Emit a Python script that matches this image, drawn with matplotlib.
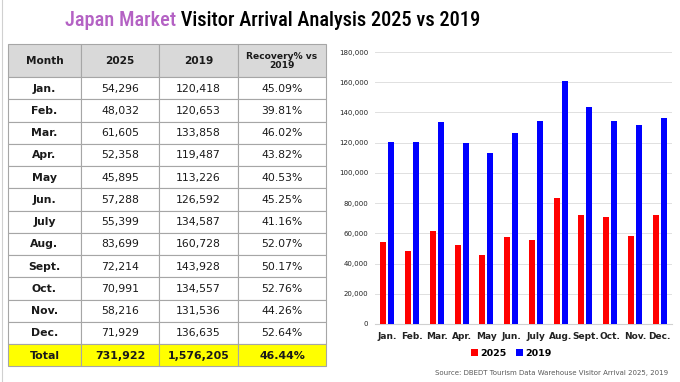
import matplotlib
matplotlib.use("Agg")
import matplotlib.pyplot as plt
from matplotlib.patches import Rectangle
from matplotlib.ticker import FuncFormatter, MultipleLocator
from matplotlib import font_manager
import numpy as np

# ---------------- data ----------------
months = ["Jan.", "Feb.", "Mar.", "Apr.", "May", "Jun.", "July", "Aug.",
          "Sept.", "Oct.", "Nov.", "Dec."]
arrivals_2025 = [54296, 48032, 61605, 52358, 45895, 57288, 55399, 83699,
                 72214, 70991, 58216, 71929]
arrivals_2019 = [120418, 120653, 133858, 119487, 113226, 126592, 134587,
                 160728, 143928, 134557, 131536, 136635]
recovery = ["45.09%", "39.81%", "46.02%", "43.82%", "40.53%", "45.25%",
            "41.16%", "52.07%", "50.17%", "52.76%", "44.26%", "52.64%"]
total_label = "Total"
total_2025 = 731922
total_2019 = 1576205
total_recovery = "46.44%"
headers = ["Month", "2025", "2019", "Recovery% vs\n2019"]
series_names = ["2025", "2019"]

title_part1 = "Japan Market"
title_part2 = " Visitor Arrival Analysis 2025 vs 2019"
source = "Source: DBEDT Tourism Data Warehouse Visitor Arrival 2025, 2019"

# ---------------- figure ----------------
W, H = 680, 382
fig = plt.figure(figsize=(W / 100, H / 100), dpi=100)
fig.patch.set_facecolor("white")

bg = fig.add_axes([0, 0, 1, 1])
bg.set_xlim(0, W)
bg.set_ylim(H, 0)
bg.axis("off")
bg.plot([2, 2], [0, H], color="#d0d0d0", lw=0.8)

# pick a narrow font if available
names = {f.name for f in font_manager.fontManager.ttflist}
tfam = "DejaVu Sans"
for cand in ["Liberation Sans Narrow", "Roboto Condensed", "Open Sans Condensed",
             "Roboto", "Liberation Sans"]:
    if cand in names:
        tfam = cand
        break
tweight = "medium" if tfam.startswith("Roboto") else "normal"

# Title, scaled to span reference width
target_w = 415.0
fs = 15.5
ty = 1 - 21 / H
t1 = fig.text(65 / W, ty, title_part1, color="#b462c4", fontsize=fs,
              family=tfam, fontweight=tweight, va="center", ha="left")
t2 = fig.text(0, ty, title_part2, color="black", fontsize=fs,
              family=tfam, fontweight=tweight, va="center", ha="left")
for _ in range(3):
    fig.canvas.draw()
    r = fig.canvas.get_renderer()
    w = t1.get_window_extent(r).width + t2.get_window_extent(r).width
    fs = min(fs * target_w / w, 16)
    t1.set_fontsize(fs)
    t2.set_fontsize(fs)
fig.canvas.draw()
bb = t1.get_window_extent(fig.canvas.get_renderer())
t2.set_position((bb.x1 / W, ty))

# ---------------- table ----------------
col_x = [8, 81, 159, 238, 326]
top = 44
header_h = 33
row_h = 22.25
grid_c = "#a6a6a6"

rows = []
for m, a, b, rr in zip(months, arrivals_2025, arrivals_2019, recovery):
    rows.append([m, f"{a:,}", f"{b:,}", rr])
total_row = [total_label, f"{total_2025:,}", f"{total_2019:,}", total_recovery]

for j in range(4):
    x0, x1 = col_x[j], col_x[j + 1]
    bg.add_patch(Rectangle((x0, top), x1 - x0, header_h, facecolor="#d9d9d9",
                           edgecolor=grid_c, lw=0.8))
    hs = 6.6 if j == 3 else 7.6
    bg.text((x0 + x1) / 2, top + header_h / 2 + 0.5, headers[j], ha="center",
            va="center", fontsize=hs, fontweight="bold", color="#1a1a1a",
            linespacing=1.0)

all_rows = rows + [total_row]
for i, row in enumerate(all_rows):
    y0 = top + header_h + i * row_h
    is_total = i == len(all_rows) - 1
    for j in range(4):
        x0, x1 = col_x[j], col_x[j + 1]
        bg.add_patch(Rectangle((x0, y0), x1 - x0, row_h,
                               facecolor="#ffff00" if is_total else "white",
                               edgecolor=grid_c, lw=0.8))
        bold = is_total or j == 0
        bg.text((x0 + x1) / 2, y0 + row_h / 2 + 0.5, row[j], ha="center",
                va="center", fontsize=7.8 if not is_total else 7.9,
                fontweight="bold" if bold else "normal", color="#1a1a1a")

# ---------------- chart ----------------
ax = fig.add_axes([375 / W, (H - 324) / H, 297 / W, (324 - 52) / H])
x = np.arange(len(months))
bw = 0.245
ax.bar(x - 0.165, arrivals_2025, width=bw, color="#ff0000", label=series_names[0], zorder=3)
ax.bar(x + 0.165, arrivals_2019, width=bw, color="#0000ff", label=series_names[1], zorder=3)
ax.set_xlim(-0.5, len(months) - 0.5)
ax.set_ylim(0, 180000)
ax.yaxis.set_major_locator(MultipleLocator(20000))
ax.yaxis.set_major_formatter(FuncFormatter(lambda v, p: f"{int(v):,}"))
ax.grid(axis="y", color="#e0e0e0", lw=0.7, zorder=0)
for s in ["top", "right", "left"]:
    ax.spines[s].set_visible(False)
ax.spines["bottom"].set_color("#d0d0d0")
ax.spines["bottom"].set_linewidth(0.8)
ax.tick_params(axis="both", length=0)
ax.tick_params(axis="y", labelsize=5, labelcolor="#222222", pad=5)
ax.set_xticks(x)
ax.set_xticklabels(months, fontsize=6.5, fontweight="bold", color="#222222")
ax.tick_params(axis="x", pad=6)

ax.legend(loc="upper center", bbox_to_anchor=(0.46, -0.06), ncol=2,
          frameon=False, prop={"size": 6.8, "weight": "bold"},
          handlelength=0.7, handleheight=0.7, handletextpad=0.3,
          columnspacing=1.0)

fig.text(668 / W, 1 - 373 / H, source, ha="right", va="center",
         fontsize=5, color="#595959")

fig.savefig("out.png", dpi=100, facecolor="white")
